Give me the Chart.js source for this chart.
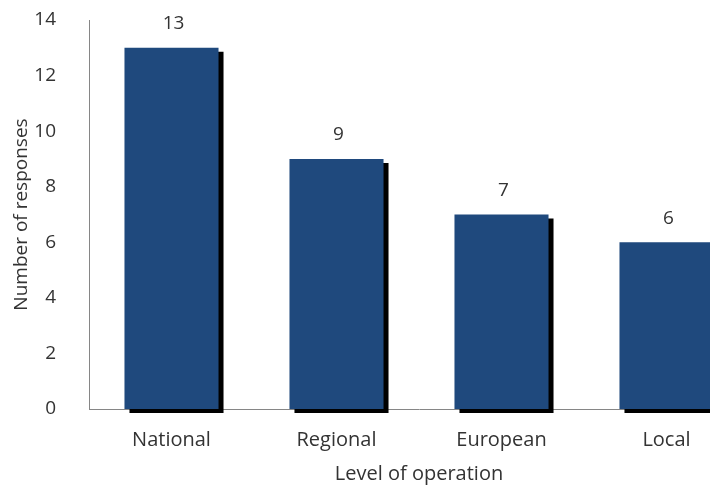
<!DOCTYPE html>
<html>
<head>
<meta charset="utf-8">
<script src="https://cdn.jsdelivr.net/npm/chart.js@4.4.1/dist/chart.umd.min.js"></script>
<style>
  html, body { margin: 0; padding: 0; background: #fff; overflow: hidden; }
  #wrap { position: relative; width: 749px; height: 486px; }
</style>
</head>
<body>
<div id="wrap"><canvas id="chart"></canvas></div>
<script>
  const levels = ["National", "Regional", "European", "Local"];
  const responses = [13, 9, 7, 6];
  const yTicks = [0, 2, 4, 6, 8, 10, 12, 14];

  const FONT = "'Open Sans', sans-serif";
  const TEXT = "#333333";

  // black drop shadow behind each bar, offset right and down
  const barShadow = {
    id: "barShadow",
    beforeDatasetsDraw(chart) {
      const ctx = chart.ctx;
      ctx.save();
      ctx.shadowColor = "#000";
      ctx.shadowOffsetX = 5;
      ctx.shadowOffsetY = 4;
      ctx.shadowBlur = 0;
    },
    afterDatasetsDraw(chart) {
      chart.ctx.restore();
    }
  };

  // value written above each bar
  const valueLabels = {
    id: "valueLabels",
    afterDraw(chart) {
      const ctx = chart.ctx;
      const meta = chart.getDatasetMeta(0);
      ctx.save();
      ctx.font = "19px " + FONT;
      ctx.fillStyle = TEXT;
      ctx.textAlign = "center";
      ctx.textBaseline = "middle";
      meta.data.forEach((bar, i) => {
        ctx.fillText(String(responses[i]), bar.x + 2, bar.y - 24);
      });
      ctx.restore();
    }
  };

  new Chart(document.getElementById("chart"), {
    type: "bar",
    data: {
      labels: levels,
      datasets: [{
        data: responses,
        backgroundColor: "#1f497d",
        borderWidth: 0,
        barPercentage: 0.57,
        categoryPercentage: 1,
        clip: false
      }]
    },
    options: {
      responsive: true,
      maintainAspectRatio: false,
      animation: false,
      events: [],
      layout: { padding: { top: 20, right: 0, left: 0, bottom: 0 } },
      plugins: { legend: { display: false }, tooltip: { enabled: false } },
      scales: {
        x: {
          grid: { display: false },
          border: { display: true, color: "#868686", width: 1 },
          ticks: { color: TEXT, font: { family: FONT, size: 20 }, padding: 11 },
          title: { display: true, text: "Level of operation", color: TEXT, font: { family: FONT, size: 20 }, padding: { top: 0, bottom: 0 } },
          afterFit(scale) { scale.height = 77; }
        },
        y: {
          min: 0,
          max: 14,
          afterBuildTicks(scale) { scale.ticks = yTicks.map(v => ({ value: v })); },
          grid: { display: false },
          border: { display: true, color: "#868686", width: 1 },
          ticks: { color: TEXT, font: { family: FONT, size: 19 }, padding: 25 },
          title: { display: true, text: "Number of responses", color: TEXT, font: { family: FONT, size: 19 }, padding: { top: 10, bottom: 0 } },
          afterFit(scale) {
            scale.width = 89;
            scale.paddingTop = 0;
            scale.paddingBottom = 0;
          }
        }
      }
    },
    plugins: [barShadow, valueLabels]
  });
</script>
</body>
</html>
